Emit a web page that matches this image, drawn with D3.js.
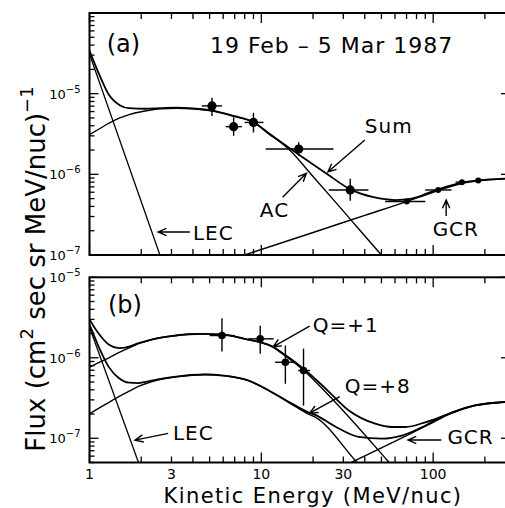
<!DOCTYPE html>
<html>
<head>
<meta charset="utf-8">
<script src="https://cdn.jsdelivr.net/npm/d3@7"></script>
<style>
  body { margin: 0; background: #fff; }
  svg { display: block; font-family: "DejaVu Sans", sans-serif; }
</style>
</head>
<body>
<svg width="505" height="508"></svg>
<script>
// ---- panel (a): [energy MeV/nuc, flux]
const aLEC = [[1, 3.1e-5], [3, 3.9e-8]];
const aAC = [[1, 3.1e-6], [1.15, 3.7e-6], [1.3, 4.3e-6], [1.5, 5.0e-6], [1.7, 5.5e-6], [2.1, 6.1e-6],
  [2.6, 6.5e-6], [3.2, 6.6e-6], [4, 6.5e-6], [5.2, 6.1e-6], [7, 5.2e-6], [9, 4.4e-6], [11, 3.2e-6],
  [14.4, 2.06e-6], [20, 9.4e-7], [30, 3.5e-7], [50, 1.0e-7], [60, 6.5e-8]];
const aGCR = [[8, 1.0e-7], [20, 1.9e-7], [40, 3.1e-7], [70, 4.6e-7], [100, 6.0e-7], [147, 7.7e-7],
  [183, 8.3e-7], [280, 8.9e-7]];
const aSum = [[1, 3.4e-5], [1.15, 1.65e-5], [1.3, 9.6e-6], [1.5, 7.2e-6], [1.7, 6.6e-6], [2.1, 6.5e-6],
  [2.6, 6.6e-6], [3.2, 6.7e-6], [4, 6.55e-6], [5.2, 6.15e-6], [7, 5.25e-6], [9, 4.45e-6], [11, 3.25e-6],
  [14.4, 2.15e-6], [18, 1.55e-6], [24, 1.02e-6], [33, 6.5e-7], [45, 5.2e-7], [60, 4.8e-7], [75, 5.0e-7],
  [100, 6.2e-7], [147, 7.9e-7], [183, 8.4e-7], [280, 8.9e-7]];
// [E, F, Elow, Ehigh, Flow, Fhigh]
const aData = [[5.16, 7.05e-6, 4.5, 5.9, 5.3e-6, 8.9e-6], [6.9, 3.9e-6, 6.2, 7.7, 3.0e-6, 5.1e-6],
  [9.0, 4.4e-6, 8.0, 10.3, 3.3e-6, 5.8e-6], [16.5, 2.06e-6, 10.6, 26.3, 1.7e-6, 2.5e-6],
  [32.9, 6.4e-7, 24.7, 42, 4.7e-7, 8.8e-7], [70.2, 4.6e-7, 52.5, 89.9, 4.6e-7, 4.6e-7],
  [107, 6.4e-7, 89.8, 128, 6.4e-7, 6.4e-7], [147, 8.0e-7, 135, 160, 8.0e-7, 8.0e-7],
  [183, 8.4e-7, 175, 192, 8.4e-7, 8.4e-7]];

// ---- panel (b)
const bLEC = [[1, 2.4e-6], [2.2, 2.3e-8]];
const bAC1 = [[1, 7.6e-7], [1.13, 8.7e-7], [1.3, 1.0e-6], [1.48, 1.16e-6], [1.7, 1.33e-6], [1.93, 1.5e-6],
  [2.2, 1.63e-6], [2.5, 1.75e-6], [2.9, 1.84e-6], [3.8, 1.96e-6], [4.5, 1.98e-6], [5.9, 1.94e-6],
  [8.4, 1.67e-6], [9.9, 1.55e-6], [11.5, 1.38e-6], [13.8, 1.05e-6], [17.6, 7.0e-7], [24.1, 3.6e-7],
  [53.7, 5.4e-8], [62, 3.8e-8]];
const bSum1 = [[1, 3.0e-6], [1.13, 2.0e-6], [1.3, 1.45e-6], [1.48, 1.32e-6], [1.7, 1.38e-6], [1.93, 1.52e-6],
  [2.2, 1.65e-6], [2.5, 1.76e-6], [2.9, 1.85e-6], [3.8, 1.96e-6], [4.5, 1.98e-6], [5.9, 1.95e-6],
  [8.4, 1.68e-6], [9.9, 1.56e-6], [11.5, 1.40e-6], [13.8, 1.08e-6], [17.6, 7.3e-7], [24.1, 4.0e-7],
  [32, 2.25e-7], [46, 1.52e-7], [57.5, 1.38e-7], [69, 1.38e-7], [90, 1.58e-7], [123, 2.0e-7],
  [175, 2.56e-7], [280, 2.85e-7]];
const bAC8 = [[1, 2.0e-7], [1.13, 2.35e-7], [1.3, 2.8e-7], [1.48, 3.3e-7], [1.7, 3.85e-7], [1.93, 4.4e-7],
  [2.2, 4.9e-7], [2.5, 5.3e-7], [3.2, 5.8e-7], [4.7, 6.2e-7], [6, 6.0e-7], [8.44, 5.2e-7], [11, 3.93e-7],
  [14.4, 2.8e-7], [18.8, 2.0e-7], [20.6, 1.83e-7], [35.2, 5.3e-8], [40, 3.9e-8]];
const bSum8 = [[1, 2.6e-6], [1.13, 1.38e-6], [1.3, 7.6e-7], [1.48, 5.6e-7], [1.7, 4.9e-7], [1.93, 4.85e-7],
  [2.2, 5.1e-7], [2.5, 5.4e-7], [3.2, 5.85e-7], [4.7, 6.2e-7], [6, 6.0e-7], [8.44, 5.2e-7], [11, 3.95e-7],
  [14.4, 2.85e-7], [18.8, 2.1e-7], [20.6, 1.95e-7], [26.9, 1.4e-7], [36.8, 1.04e-7], [50.3, 9.9e-8],
  [65.7, 1.08e-7], [86, 1.37e-7], [100, 1.62e-7], [130, 2.12e-7], [175, 2.56e-7], [280, 2.85e-7]];
const bGCR = [[32, 4.8e-8], [50, 7.6e-8], [70, 1.08e-7], [100, 1.58e-7], [130, 2.08e-7], [175, 2.54e-7],
  [280, 2.83e-7]];
const bData = [[5.9, 1.89e-6, 5.0, 7.0, 1.2e-6, 3.1e-6], [9.85, 1.72e-6, 8.4, 11.8, 1.12e-6, 2.5e-6],
  [13.8, 8.8e-7, 12.0, 15.4, 4.75e-7, 1.42e-6], [17.6, 6.95e-7, 16.4, 19.2, 2.55e-7, 1.3e-6]];

const xTickLabels = [1, 3, 10, 30, 100];
const aYLabels = [1e-5, 1e-6, 1e-7];
const bYLabels = [1e-5, 1e-6, 1e-7];

const svg = d3.select("svg");
const X0 = 89.5, X1 = 510;
const x = d3.scaleLog().domain([1, 280]).range([X0, X1]);
const yA = d3.scaleLog().domain([1e-7, 1e-4]).range([255, 13]);
const yB = d3.scaleLog().domain([5e-8, 1e-5]).range([462.5, 277.3]);

const isDecade = v => Math.abs(Math.log10(v) - Math.round(Math.log10(v))) < 1e-6;

function frame(y, labels, id) {
  const [yb, yt] = y.range();
  const g = svg.append("g");
  svg.append("clipPath").attr("id", id).append("rect")
    .attr("x", X0).attr("y", yt).attr("width", X1 - X0).attr("height", yb - yt);
  const ticks = g.append("g").attr("stroke", "#000").attr("stroke-width", 1.3);
  x.ticks().forEach(v => {
    const len = isDecade(v) ? 10 : 6;
    ticks.append("line").attr("x1", x(v)).attr("x2", x(v)).attr("y1", yb).attr("y2", yb - len);
    ticks.append("line").attr("x1", x(v)).attr("x2", x(v)).attr("y1", yt).attr("y2", yt + len);
  });
  y.ticks().forEach(v => {
    const len = isDecade(v) ? 9 : 5;
    ticks.append("line").attr("x1", X0).attr("x2", X0 + len).attr("y1", y(v)).attr("y2", y(v));
    ticks.append("line").attr("x1", X1).attr("x2", X1 - len).attr("y1", y(v)).attr("y2", y(v));
  });
  g.append("rect").attr("x", X0).attr("y", yt).attr("width", X1 - X0).attr("height", yb - yt)
    .attr("fill", "none").attr("stroke", "#000").attr("stroke-width", 2);
  labels.forEach(v => {
    const t = g.append("text").attr("x", X0 - 9).attr("y", y(v) + 5)
      .attr("text-anchor", "end").attr("font-size", 13);
    t.append("tspan").text("10");
    t.append("tspan").attr("dy", -6).attr("font-size", 10).text("\u2212" + Math.round(-Math.log10(v)));
  });
  return g;
}

function curve(g, y, id, data, w) {
  const line = d3.line().x(d => x(d[0])).y(d => y(d[1])).curve(d3.curveMonotoneX);
  g.append("path").datum(data).attr("d", line).attr("clip-path", `url(#${id})`)
    .attr("fill", "none").attr("stroke", "#000").attr("stroke-width", w);
}

function points(g, y, data, rad) {
  data.forEach((d, i) => {
    const [e, f, e0, e1, f0, f1] = d;
    g.append("line").attr("x1", x(e0)).attr("x2", x(e1)).attr("y1", y(f)).attr("y2", y(f))
      .attr("stroke", "#000").attr("stroke-width", 1.4);
    g.append("line").attr("x1", x(e)).attr("x2", x(e)).attr("y1", y(f0)).attr("y2", y(f1))
      .attr("stroke", "#000").attr("stroke-width", 1.4);
    g.append("circle").attr("cx", x(e)).attr("cy", y(f)).attr("r", rad(i)).attr("fill", "#000");
  });
}

function arrow(g, y, from, to) {
  const x1 = x(from[0]), y1 = y(from[1]), x2 = x(to[0]), y2 = y(to[1]);
  const a = Math.atan2(y2 - y1, x2 - x1), L = 9, s = 0.42;
  const p = d3.path();
  p.moveTo(x1, y1); p.lineTo(x2, y2);
  p.moveTo(x2 - L * Math.cos(a - s), y2 - L * Math.sin(a - s)); p.lineTo(x2, y2);
  p.lineTo(x2 - L * Math.cos(a + s), y2 - L * Math.sin(a + s));
  g.append("path").attr("d", p.toString()).attr("fill", "none")
    .attr("stroke", "#000").attr("stroke-width", 1.4);
}

function label(g, y, at, txt, size, ls) {
  g.append("text").attr("x", x(at[0])).attr("y", y(at[1])).attr("font-size", size)
    .attr("letter-spacing", ls).text(txt);
}

// ---- panel (a)
const ga = frame(yA, aYLabels, "clipA");
curve(ga, yA, "clipA", aLEC, 1.3);
curve(ga, yA, "clipA", aAC, 1.4);
curve(ga, yA, "clipA", aGCR, 1.4);
curve(ga, yA, "clipA", aSum, 1.8);
points(ga, yA, aData, i => (i < 5 ? 4.6 : 3));
label(ga, yA, [1.26, 3.3e-5], "(a)", 24, 0);
label(ga, yA, [5.02, 3.2e-5], "19 Feb \u2013 5 Mar 1987", 22, 1);
label(ga, yA, [40, 3.25e-6], "Sum", 20, 1);
arrow(ga, yA, [40, 2.67e-6], [24.4, 1.07e-6]);
label(ga, yA, [9.8, 2.96e-7], "AC", 20, 1);
arrow(ga, yA, [13.3, 5.2e-7], [18.3, 1.03e-6]);
label(ga, yA, [99.3, 1.72e-7], "GCR", 20, 1);
arrow(ga, yA, [119, 3.04e-7], [119, 4.8e-7]);
label(ga, yA, [4.0, 1.53e-7], "LEC", 20, 1);
arrow(ga, yA, [3.84, 1.93e-7], [2.51, 1.93e-7]);

// ---- panel (b)
const gb = frame(yB, bYLabels, "clipB");
curve(gb, yB, "clipB", bLEC, 1.3);
curve(gb, yB, "clipB", bAC1, 1.4);
curve(gb, yB, "clipB", bAC8, 1.4);
curve(gb, yB, "clipB", bGCR, 1.4);
curve(gb, yB, "clipB", bSum1, 1.8);
curve(gb, yB, "clipB", bSum8, 1.8);
points(gb, yB, bData, () => 3.8);
label(gb, yB, [1.28, 3.6e-6], "(b)", 24, 0);
label(gb, yB, [19.9, 2.09e-6], "Q=+1", 20, 1);
arrow(gb, yB, [19.1, 2.48e-6], [11.7, 1.37e-6]);
label(gb, yB, [30.6, 3.66e-7], "Q=+8", 20, 1);
arrow(gb, yB, [28.6, 3.29e-7], [19.1, 2.05e-7]);
label(gb, yB, [121, 8.5e-8], "GCR", 20, 1);
arrow(gb, yB, [111.6, 9.5e-8], [71.4, 9.5e-8]);
label(gb, yB, [3.06, 9.5e-8], "LEC", 20, 1);
arrow(gb, yB, [2.87, 1.15e-7], [1.84, 9.5e-8]);

// ---- axes labels
svg.append("g").selectAll("text").data(xTickLabels).join("text")
  .attr("x", d => x(d)).attr("y", 479).attr("text-anchor", "middle").attr("font-size", 14)
  .text(d => d);

svg.append("text").attr("x", 313).attr("y", 503).attr("text-anchor", "middle")
  .attr("font-size", 21).attr("letter-spacing", 1.4).text("Kinetic Energy (MeV/nuc)");

const yt = svg.append("text").attr("transform", "translate(45,269) rotate(-90)")
  .attr("text-anchor", "middle").attr("font-size", 26);
yt.append("tspan").text("Flux (cm");
yt.append("tspan").attr("dy", -12).attr("font-size", 18).text("2");
yt.append("tspan").attr("dy", 12).text(" sec sr MeV/nuc)");
yt.append("tspan").attr("dy", -12).attr("font-size", 18).text("\u22121");
</script>
</body>
</html>
